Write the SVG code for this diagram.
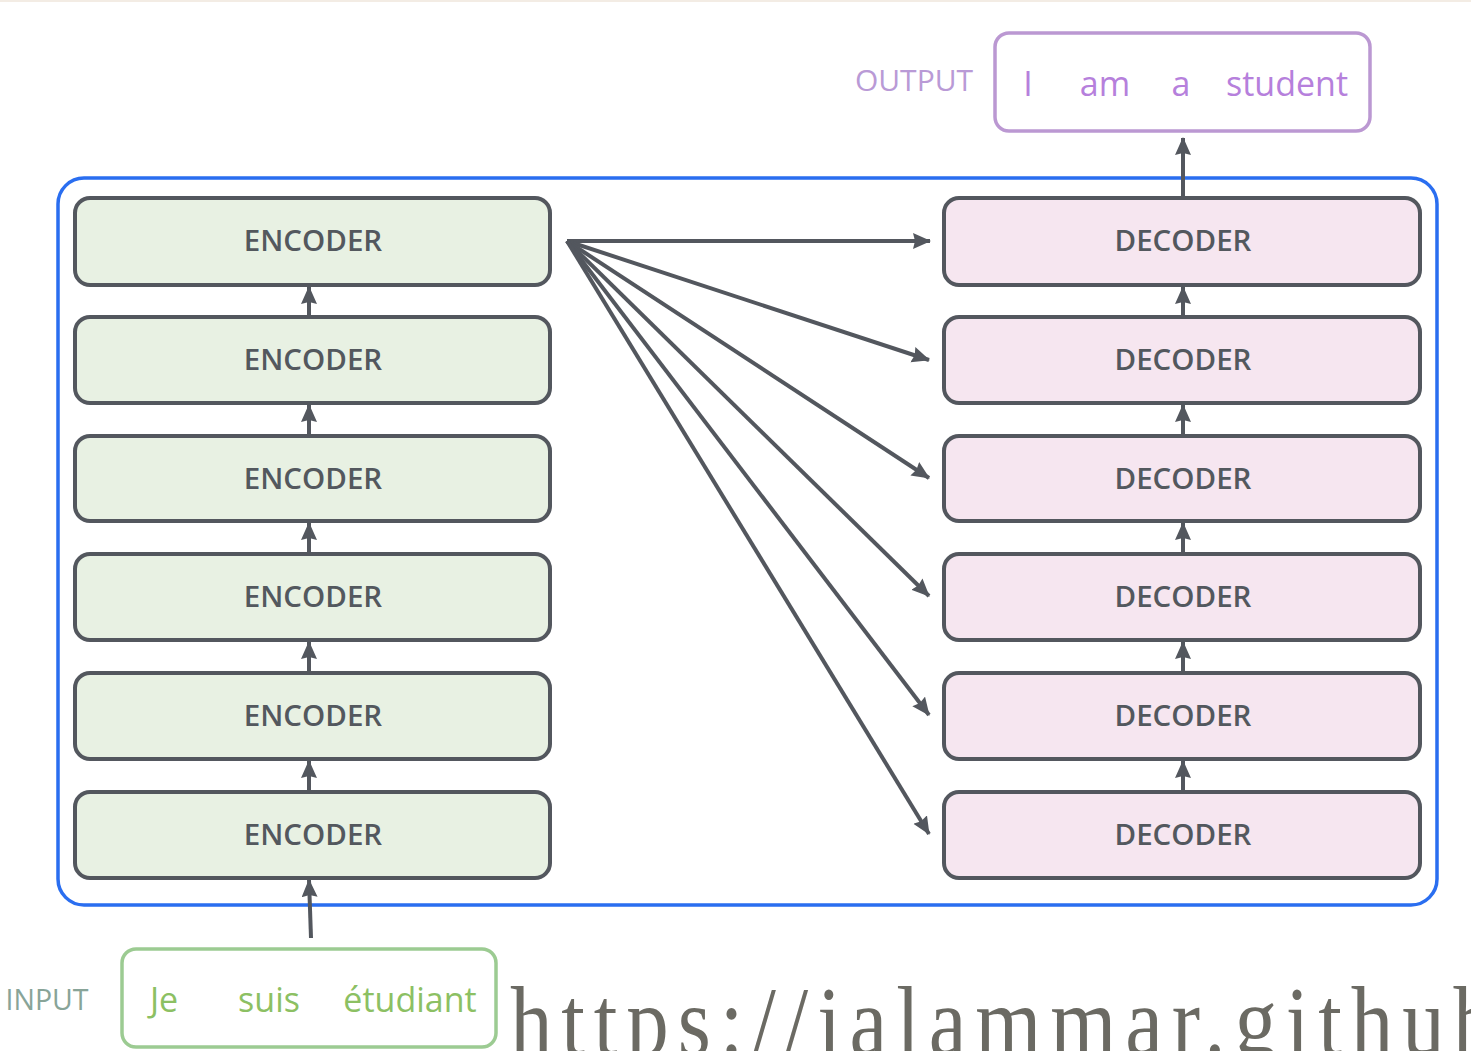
<svg xmlns="http://www.w3.org/2000/svg" width="1471" height="1051" viewBox="0 0 1471 1051">
<defs>
<marker id="ah" markerUnits="userSpaceOnUse" markerWidth="20" markerHeight="18" refX="17" refY="8" orient="auto">
<path d="M0,0 L18,8 L0,16 L2,8 Z" fill="#53575e"/>
</marker>
</defs>
<style>
.enc{fill:#e8f1e3;stroke:#53575e;stroke-width:4}
.dec{fill:#f6e6f0;stroke:#53575e;stroke-width:4}
.lbl{font-family:"Open Sans","Liberation Sans",sans-serif;font-weight:600;font-size:29.5px;fill:#53585e;text-anchor:middle}
.con{stroke:#53575e;stroke-width:4;fill:none;marker-end:url(#ah)}
</style>
<rect x="0" y="0" width="1471" height="1051" fill="#ffffff"/>
<rect x="0" y="0" width="1471" height="2" fill="#f3ece4"/>
<g id="container">
<rect x="58" y="178" width="1379" height="727" rx="26" fill="none" stroke="#2a6ef0" stroke-width="3.5"/>
</g>
<g id="output">
<text x="914" y="91" font-family="Open Sans, Liberation Sans, sans-serif" font-size="30" fill="#b99ad6" text-anchor="middle">OUTPUT</text>
<rect x="995" y="33" width="375" height="98" rx="14" fill="#ffffff" stroke="#bb98d2" stroke-width="3.5"/>
<g font-family="Open Sans, Liberation Sans, sans-serif" font-size="34" fill="#b680dc">
<text x="1028" y="96" text-anchor="middle">I</text>
<text x="1105" y="96" text-anchor="middle">am</text>
<text x="1181" y="96" text-anchor="middle">a</text>
<text x="1287" y="96" text-anchor="middle">student</text>
</g>
</g>
<g id="input">
<text x="47" y="1010" font-family="Open Sans, Liberation Sans, sans-serif" font-size="28.5" fill="#88a498" text-anchor="middle">INPUT</text>
<rect x="122" y="949" width="374" height="98" rx="14" fill="#ffffff" stroke="#9ccb92" stroke-width="3.5"/>
<g font-family="Open Sans, Liberation Sans, sans-serif" font-size="34" fill="#8cc063">
<text x="164" y="1012" text-anchor="middle">Je</text>
<text x="269" y="1012" text-anchor="middle">suis</text>
<text x="410" y="1012" text-anchor="middle">étudiant</text>
</g>
</g>
<g id="encoder1"><rect class="enc" x="75" y="198" width="475" height="87" rx="15"/><text class="lbl" x="313" y="251">ENCODER</text></g>
<g id="encoder2"><rect class="enc" x="75" y="317" width="475" height="86" rx="15"/><text class="lbl" x="313" y="370">ENCODER</text></g>
<g id="encoder3"><rect class="enc" x="75" y="436" width="475" height="85" rx="15"/><text class="lbl" x="313" y="489">ENCODER</text></g>
<g id="encoder4"><rect class="enc" x="75" y="554" width="475" height="86" rx="15"/><text class="lbl" x="313" y="607">ENCODER</text></g>
<g id="encoder5"><rect class="enc" x="75" y="673" width="475" height="86" rx="15"/><text class="lbl" x="313" y="726">ENCODER</text></g>
<g id="encoder6"><rect class="enc" x="75" y="792" width="475" height="86" rx="15"/><text class="lbl" x="313" y="845">ENCODER</text></g>
<g id="decoder1"><rect class="dec" x="944" y="198" width="476" height="87" rx="15"/><text class="lbl" x="1183" y="251">DECODER</text></g>
<g id="decoder2"><rect class="dec" x="944" y="317" width="476" height="86" rx="15"/><text class="lbl" x="1183" y="370">DECODER</text></g>
<g id="decoder3"><rect class="dec" x="944" y="436" width="476" height="85" rx="15"/><text class="lbl" x="1183" y="489">DECODER</text></g>
<g id="decoder4"><rect class="dec" x="944" y="554" width="476" height="86" rx="15"/><text class="lbl" x="1183" y="607">DECODER</text></g>
<g id="decoder5"><rect class="dec" x="944" y="673" width="476" height="86" rx="15"/><text class="lbl" x="1183" y="726">DECODER</text></g>
<g id="decoder6"><rect class="dec" x="944" y="792" width="476" height="86" rx="15"/><text class="lbl" x="1183" y="845">DECODER</text></g>
<g id="connectors">
<line class="con" x1="311" y1="938" x2="309" y2="880"/>
<line class="con" x1="309" y1="792" x2="309" y2="761"/>
<line class="con" x1="309" y1="673" x2="309" y2="642"/>
<line class="con" x1="309" y1="554" x2="309" y2="523"/>
<line class="con" x1="309" y1="436" x2="309" y2="405"/>
<line class="con" x1="309" y1="317" x2="309" y2="287"/>
<line class="con" x1="1183" y1="792" x2="1183" y2="761"/>
<line class="con" x1="1183" y1="673" x2="1183" y2="642"/>
<line class="con" x1="1183" y1="554" x2="1183" y2="523"/>
<line class="con" x1="1183" y1="436" x2="1183" y2="405"/>
<line class="con" x1="1183" y1="317" x2="1183" y2="287"/>
<line class="con" x1="1183" y1="198" x2="1183" y2="138"/>
<line class="con" x1="567" y1="241" x2="930" y2="241"/>
<line class="con" x1="567" y1="241" x2="929" y2="360"/>
<line class="con" x1="567" y1="241" x2="929" y2="478"/>
<line class="con" x1="567" y1="241" x2="929" y2="596"/>
<line class="con" x1="567" y1="241" x2="929" y2="715"/>
<line class="con" x1="567" y1="241" x2="929" y2="834"/>
</g>
<text transform="translate(510,1055) scale(0.85,1)" x="0" y="0" font-family="Liberation Serif, serif" font-size="100" fill="#6b6a63" textLength="1160" lengthAdjust="spacing">https://jalammar.github</text>
</svg>
